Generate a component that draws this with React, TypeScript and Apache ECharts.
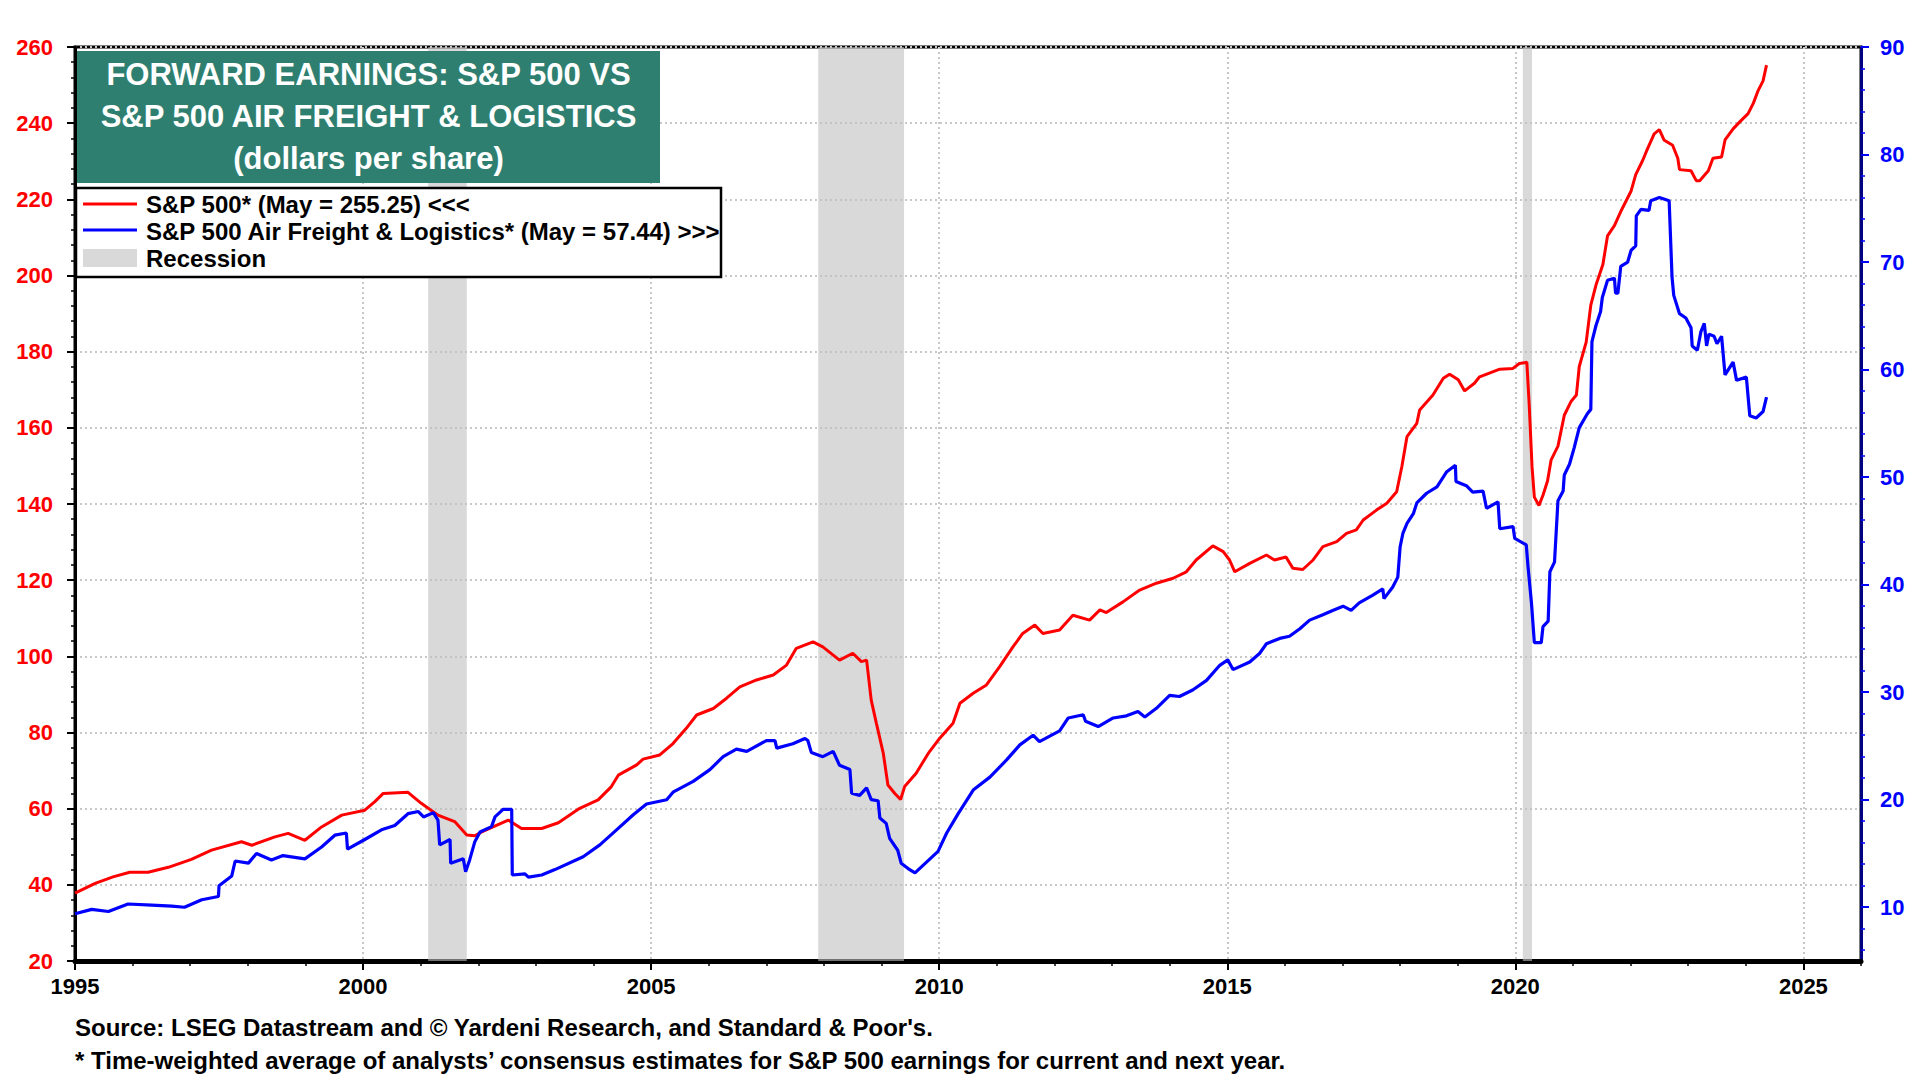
import React, { useEffect, useRef } from "react";
import * as echarts from "echarts";

// S&P 500 forward earnings (dollars per share), [year, value]
const spxData: [number, number][] = [
  [1995.0, 37.8], [1995.35, 40.4], [1995.66, 42.1], [1995.95, 43.3], [1996.27, 43.3], [1996.62, 44.6],
  [1997.02, 46.7], [1997.37, 49.1], [1997.89, 51.3], [1998.07, 50.4], [1998.47, 52.6], [1998.7, 53.5],
  [1998.99, 51.7], [1999.28, 55.2], [1999.63, 58.3], [2000.03, 59.6], [2000.2, 61.8], [2000.35, 64.0],
  [2000.78, 64.3], [2001.01, 61.4], [2001.3, 58.3], [2001.59, 56.6], [2001.8, 53.1], [2001.94, 52.9],
  [2002.06, 53.9], [2002.52, 57.0], [2002.75, 54.8], [2003.1, 54.8], [2003.39, 56.3], [2003.76, 60.1],
  [2004.08, 62.3], [2004.31, 65.8], [2004.43, 68.8], [2004.75, 71.5], [2004.86, 73.0], [2005.15, 74.1],
  [2005.38, 77.1], [2005.61, 81.1], [2005.79, 84.6], [2006.08, 86.3], [2006.31, 89.0], [2006.54, 92.0],
  [2006.83, 93.8], [2007.12, 95.1], [2007.35, 97.7], [2007.52, 102.1], [2007.81, 103.8], [2007.98, 102.5],
  [2008.27, 99.0], [2008.5, 100.8], [2008.65, 98.6], [2008.74, 99.0], [2008.82, 88.5], [2008.91, 82.4],
  [2009.03, 74.5], [2009.11, 66.2], [2009.23, 64.0], [2009.33, 62.4], [2009.4, 65.8], [2009.6, 69.3],
  [2009.81, 74.5], [2010.01, 78.5], [2010.24, 82.4], [2010.36, 87.7], [2010.59, 90.3], [2010.82, 92.5],
  [2011.05, 97.3], [2011.28, 102.5], [2011.45, 106.0], [2011.66, 108.2], [2011.8, 106.0], [2012.09, 106.9],
  [2012.32, 110.8], [2012.61, 109.5], [2012.79, 112.2], [2012.9, 111.5], [2013.19, 114.3], [2013.48, 117.4],
  [2013.77, 119.2], [2014.06, 120.5], [2014.29, 122.2], [2014.46, 125.3], [2014.75, 129.0], [2014.93, 127.5],
  [2015.04, 125.3], [2015.13, 122.2], [2015.39, 124.4], [2015.68, 126.6], [2015.82, 125.3], [2016.02, 126.1],
  [2016.14, 123.1], [2016.31, 122.8], [2016.49, 125.3], [2016.66, 128.8], [2016.9, 130.1], [2017.07, 132.3],
  [2017.24, 133.2], [2017.36, 135.8], [2017.59, 138.4], [2017.77, 140.2], [2017.94, 143.2], [2018.03, 149.8],
  [2018.12, 157.7], [2018.29, 161.2], [2018.34, 164.7], [2018.57, 168.6], [2018.75, 173.0], [2018.86, 174.1],
  [2019.01, 172.6], [2019.12, 169.7], [2019.29, 171.7], [2019.38, 173.4], [2019.73, 175.4], [2019.96, 175.6],
  [2020.07, 176.9], [2020.2, 177.2], [2020.24, 166.4], [2020.29, 149.8], [2020.33, 141.8], [2020.41, 139.6],
  [2020.48, 142.3], [2020.56, 146.1], [2020.62, 151.5], [2020.74, 155.2], [2020.85, 163.3], [2020.97, 167.0],
  [2021.06, 168.6], [2021.11, 176.1], [2021.23, 182.5], [2021.31, 192.2], [2021.4, 197.5], [2021.52, 202.9],
  [2021.6, 210.4], [2021.72, 213.1], [2021.83, 216.8], [2022.01, 222.2], [2022.09, 226.5], [2022.21, 230.2],
  [2022.29, 233.1], [2022.41, 237.2], [2022.5, 238.3], [2022.58, 235.6], [2022.73, 234.2], [2022.82, 230.8],
  [2022.85, 227.8], [2023.05, 227.5], [2023.14, 224.9], [2023.2, 224.9], [2023.35, 227.5], [2023.43, 230.8],
  [2023.58, 231.1], [2023.64, 235.6], [2023.78, 238.5], [2023.9, 240.4], [2024.04, 242.5], [2024.13, 245.2],
  [2024.21, 248.4], [2024.3, 251.1], [2024.36, 255.25],
];

// S&P 500 Air Freight & Logistics forward earnings, [year, value]
const aflData: [number, number][] = [
  [1995.0, 9.4], [1995.29, 9.8], [1995.58, 9.6], [1995.92, 10.3], [1996.33, 10.2], [1996.68, 10.1],
  [1996.9, 10.0], [1997.2, 10.7], [1997.49, 11.0], [1997.5, 12.0], [1997.72, 12.9], [1997.78, 14.3],
  [1998.01, 14.1], [1998.15, 15.0], [1998.41, 14.4], [1998.61, 14.8], [1998.99, 14.5], [1999.28, 15.6],
  [1999.51, 16.7], [1999.71, 16.9], [1999.73, 15.4], [2000.03, 16.3], [2000.32, 17.2], [2000.55, 17.6],
  [2000.78, 18.7], [2000.96, 18.9], [2001.05, 18.4], [2001.22, 18.8], [2001.3, 18.1], [2001.33, 15.8],
  [2001.51, 16.3], [2001.52, 14.1], [2001.74, 14.5], [2001.78, 13.3], [2001.85, 14.4], [2001.94, 16.1],
  [2002.03, 17.0], [2002.23, 17.5], [2002.29, 18.4], [2002.43, 19.1], [2002.58, 19.1], [2002.59, 13.0],
  [2002.81, 13.1], [2002.87, 12.8], [2003.1, 13.0], [2003.33, 13.5], [2003.82, 14.7], [2004.11, 15.8],
  [2004.4, 17.2], [2004.69, 18.6], [2004.92, 19.6], [2005.27, 20.0], [2005.38, 20.7], [2005.73, 21.7],
  [2006.02, 22.8], [2006.25, 24.0], [2006.48, 24.7], [2006.66, 24.5], [2007.0, 25.5], [2007.15, 25.5],
  [2007.18, 24.8], [2007.46, 25.2], [2007.67, 25.7], [2007.72, 25.5], [2007.78, 24.4], [2007.98, 24.0],
  [2008.16, 24.5], [2008.27, 23.2], [2008.45, 22.8], [2008.48, 20.6], [2008.62, 20.4], [2008.74, 21.1],
  [2008.82, 20.0], [2008.94, 19.9], [2008.97, 18.3], [2009.08, 17.8], [2009.14, 16.4], [2009.28, 15.3],
  [2009.34, 14.1], [2009.46, 13.6], [2009.58, 13.2], [2009.78, 14.2], [2009.98, 15.2], [2010.13, 16.9],
  [2010.33, 18.7], [2010.59, 20.9], [2010.88, 22.1], [2011.17, 23.7], [2011.4, 25.1], [2011.63, 26.0],
  [2011.74, 25.4], [2012.09, 26.4], [2012.24, 27.6], [2012.5, 27.9], [2012.54, 27.3], [2012.76, 26.8],
  [2013.02, 27.6], [2013.25, 27.8], [2013.45, 28.2], [2013.57, 27.7], [2013.77, 28.5], [2014.0, 29.7],
  [2014.17, 29.6], [2014.4, 30.2], [2014.64, 31.1], [2014.87, 32.5], [2015.01, 33.0], [2015.1, 32.1],
  [2015.39, 32.8], [2015.56, 33.6], [2015.68, 34.5], [2015.91, 35.0], [2016.08, 35.2], [2016.26, 35.9],
  [2016.43, 36.7], [2016.66, 37.2], [2016.83, 37.6], [2017.01, 38.0], [2017.15, 37.6], [2017.29, 38.3],
  [2017.52, 39.0], [2017.7, 39.6], [2017.72, 38.7], [2017.87, 39.75], [2017.96, 40.7], [2018.0, 43.5],
  [2018.05, 44.8], [2018.12, 45.7], [2018.23, 46.6], [2018.29, 47.6], [2018.46, 48.5], [2018.64, 49.1],
  [2018.81, 50.5], [2018.96, 51.1], [2018.97, 49.6], [2019.15, 49.2], [2019.26, 48.6], [2019.44, 48.7],
  [2019.5, 47.1], [2019.7, 47.7], [2019.73, 45.2], [2019.96, 45.4], [2019.99, 44.3], [2020.19, 43.7],
  [2020.22, 41.7], [2020.28, 38.3], [2020.33, 34.6], [2020.45, 34.6], [2020.48, 36.1], [2020.57, 36.6],
  [2020.6, 41.2], [2020.68, 42.1], [2020.74, 47.8], [2020.83, 48.7], [2020.85, 50.2], [2020.94, 51.2],
  [2021.02, 52.7], [2021.11, 54.6], [2021.25, 55.9], [2021.31, 56.3], [2021.33, 62.6], [2021.4, 64.1],
  [2021.48, 65.4], [2021.51, 66.7], [2021.6, 68.3], [2021.72, 68.5], [2021.74, 67.1], [2021.78, 67.1],
  [2021.83, 69.6], [2021.95, 70.0], [2022.01, 71.1], [2022.09, 71.5], [2022.1, 74.3], [2022.18, 74.9],
  [2022.32, 74.8], [2022.35, 75.7], [2022.5, 76.0], [2022.67, 75.7], [2022.72, 68.6], [2022.75, 66.9],
  [2022.85, 65.2], [2022.96, 64.8], [2023.05, 63.9], [2023.07, 62.2], [2023.16, 61.8], [2023.22, 63.5],
  [2023.28, 64.3], [2023.32, 62.2], [2023.36, 63.3], [2023.45, 63.1], [2023.5, 62.4], [2023.58, 63.1],
  [2023.64, 59.5], [2023.78, 60.7], [2023.84, 59.0], [2024.01, 59.3], [2024.07, 55.7], [2024.18, 55.5],
  [2024.3, 56.1], [2024.36, 57.44],
];

// Recession periods [start, end] in decimal years
const recessions: [number, number][] = [
  [2001.13, 2001.8],
  [2007.9, 2009.39],
  [2020.13, 2020.29],
];

const xMajorTicks = [1995, 2000, 2005, 2010, 2015, 2020, 2025];
const xMinorTicks = [
  1996, 1997, 1998, 1999, 2001, 2002, 2003, 2004, 2006, 2007, 2008, 2009, 2011, 2012, 2013, 2014,
  2016, 2017, 2018, 2019, 2021, 2022, 2023, 2024, 2026,
];
const rightMajorTicks = [10, 20, 30, 40, 50, 60, 70, 80, 90];
const rightMinorTicks = [
  6, 8, 12, 14, 16, 18, 22, 24, 26, 28, 32, 34, 36, 38, 42, 44, 46, 48, 52, 54, 56, 58, 62, 64, 66, 68,
  72, 74, 76, 78, 82, 84, 86, 88,
];

const titleLines = ["FORWARD EARNINGS: S&P 500 VS", "S&P 500 AIR FREIGHT & LOGISTICS", "(dollars per share)"];
const legendLabels = [
  "S&P 500* (May = 255.25) <<<",
  "S&P 500 Air Freight & Logistics* (May = 57.44) >>>",
  "Recession",
];
const footerLines = [
  "Source: LSEG Datastream and \u00A9 Yardeni Research, and Standard & Poor's.",
  "* Time-weighted average of analysts\u2019 consensus estimates for S&P 500 earnings for current and next year.",
];

const FONT = "'Liberation Sans', Arial, Helvetica, sans-serif";
const RED = "#FF0000";
const BLUE = "#0000FF";
const GRID_LINE = { color: "#c8c8c8", width: 2, type: [2, 3] as number[] };

export default function App() {
  const ref = useRef<HTMLDivElement>(null);

  useEffect(() => {
    if (!ref.current) return;
    const chart = echarts.init(ref.current, null, { renderer: "svg" });

    const option: any = {
      animation: false,
      backgroundColor: "#ffffff",
      textStyle: { fontFamily: FONT },
      grid: {
        left: 75,
        right: 59,
        top: 47,
        bottom: 119,
        show: true,
        borderColor: "#000000",
        borderWidth: 3,
        backgroundColor: "#ffffff",
      },
      xAxis: [
        {
          type: "value",
          min: 1995,
          max: 2026,
          interval: 5,
          position: "bottom",
          axisLine: { show: true, onZero: false, lineStyle: { color: "#000000", width: 5 } },
          axisTick: {
            show: true,
            customValues: xMajorTicks,
            length: 9,
            lineStyle: { color: "#000000", width: 2 },
          },
          axisLabel: {
            show: true,
            customValues: xMajorTicks,
            formatter: (v: number) => String(Math.round(v)),
            margin: 14,
            color: "#000000",
            fontWeight: "bold",
            fontSize: 22,
            fontFamily: FONT,
          },
          splitLine: { show: true, lineStyle: GRID_LINE },
        },
        {
          type: "value",
          min: 1995,
          max: 2026,
          position: "bottom",
          axisLine: { show: false, onZero: false },
          axisTick: {
            show: true,
            customValues: xMinorTicks,
            length: 5,
            lineStyle: { color: "#000000", width: 1.5 },
          },
          axisLabel: { show: false },
          splitLine: { show: false },
        },
      ],
      yAxis: [
        {
          type: "value",
          min: 20,
          max: 260,
          interval: 20,
          position: "left",
          axisLine: { show: true, onZero: false, lineStyle: { color: "#000000", width: 3 } },
          axisTick: { show: true, length: 8, lineStyle: { color: "#000000", width: 2 } },
          minorTick: { show: true, splitNumber: 5, length: 4, lineStyle: { color: "#000000", width: 1.5 } },
          axisLabel: {
            margin: 22,
            color: RED,
            fontWeight: "bold",
            fontSize: 22,
            fontFamily: FONT,
          },
          splitLine: { show: true, lineStyle: GRID_LINE },
        },
        {
          type: "value",
          min: 5,
          max: 90,
          position: "right",
          axisLine: { show: true, onZero: false, lineStyle: { color: "#000080", width: 3 } },
          axisTick: {
            show: true,
            customValues: rightMajorTicks,
            length: 8,
            lineStyle: { color: BLUE, width: 2 },
          },
          axisLabel: {
            customValues: rightMajorTicks,
            margin: 19,
            color: BLUE,
            fontWeight: "bold",
            fontSize: 22,
            fontFamily: FONT,
          },
          splitLine: { show: false },
        },
        {
          type: "value",
          min: 5,
          max: 90,
          position: "right",
          axisLine: { show: false, onZero: false },
          axisTick: {
            show: true,
            customValues: rightMinorTicks,
            length: 4,
            lineStyle: { color: BLUE, width: 1.5 },
          },
          axisLabel: { show: false },
          splitLine: { show: false },
        },
      ],
      series: [
        {
          name: "Recession",
          type: "line",
          xAxisIndex: 0,
          yAxisIndex: 0,
          data: [],
          silent: true,
          markArea: {
            silent: true,
            z: 1,
            itemStyle: { color: "#bfbfbf", opacity: 0.6, borderWidth: 0 },
            data: recessions.map(([a, b]) => [{ xAxis: a }, { xAxis: b }]),
          },
        },
        {
          name: "S&P 500",
          type: "line",
          xAxisIndex: 0,
          yAxisIndex: 0,
          data: spxData,
          showSymbol: false,
          symbol: "none",
          z: 3,
          lineStyle: { color: RED, width: 3 },
          itemStyle: { color: RED },
        },
        {
          name: "S&P 500 Air Freight & Logistics",
          type: "line",
          xAxisIndex: 0,
          yAxisIndex: 1,
          data: aflData,
          showSymbol: false,
          symbol: "none",
          z: 4,
          lineStyle: { color: BLUE, width: 3.2 },
          itemStyle: { color: BLUE },
        },
      ],
      graphic: [
        {
          type: "rect",
          z: 100,
          shape: { x: 77, y: 51, width: 583, height: 132 },
          style: { fill: "#2F7F71" },
        },
        ...titleLines.map((t, i) => ({
          type: "text",
          z: 101,
          x: 368.5,
          y: 74 + i * 42,
          style: {
            text: t,
            fill: "#ffffff",
            font: `bold 31px ${FONT}`,
            textAlign: "center",
            textVerticalAlign: "middle",
          },
        })),
        {
          type: "rect",
          z: 100,
          shape: { x: 76, y: 188, width: 645, height: 89 },
          style: { fill: "#ffffff", stroke: "#000000", lineWidth: 2.5 },
        },
        {
          type: "line",
          z: 101,
          shape: { x1: 83, y1: 204, x2: 137, y2: 204 },
          style: { stroke: RED, lineWidth: 3 },
        },
        {
          type: "line",
          z: 101,
          shape: { x1: 83, y1: 230, x2: 137, y2: 230 },
          style: { stroke: BLUE, lineWidth: 3 },
        },
        {
          type: "rect",
          z: 101,
          shape: { x: 83, y: 249, width: 54, height: 18 },
          style: { fill: "#d9d9d9" },
        },
        ...legendLabels.map((t, i) => ({
          type: "text",
          z: 101,
          x: 146,
          y: [204, 231, 258][i],
          style: {
            text: t,
            fill: "#000000",
            font: `bold 24px ${FONT}`,
            textAlign: "left",
            textVerticalAlign: "middle",
          },
        })),
        ...footerLines.map((t, i) => ({
          type: "text",
          z: 101,
          x: 75,
          y: 1027 + i * 33,
          style: {
            text: t,
            fill: "#000000",
            font: `bold 24px ${FONT}`,
            textAlign: "left",
            textVerticalAlign: "middle",
          },
        })),
      ],
    };

    chart.setOption(option);
    return () => {
      chart.dispose();
    };
  }, []);

  return (
    <div
      ref={ref}
      style={{ position: "absolute", left: 0, top: 0, width: 1920, height: 1080, background: "#ffffff" }}
    />
  );
}
